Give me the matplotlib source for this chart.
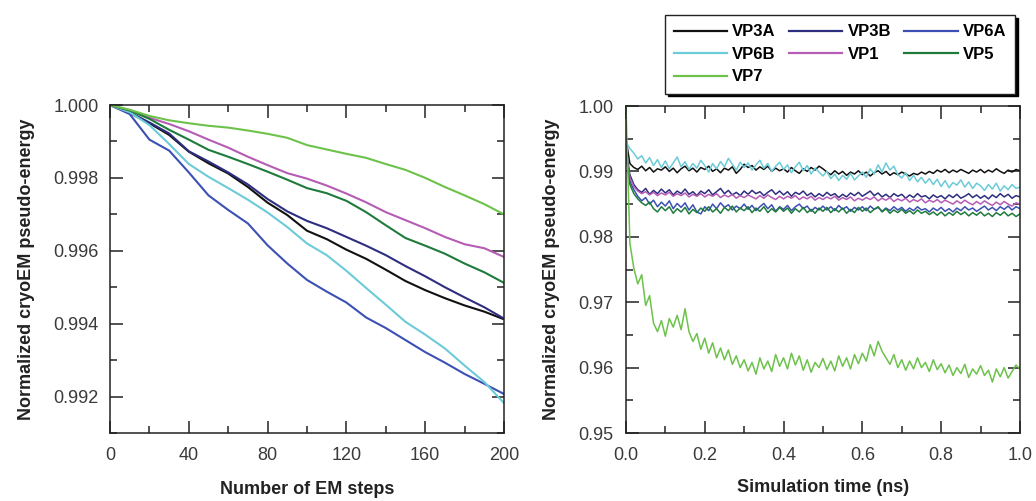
import numpy as np
import matplotlib
matplotlib.use("Agg")
import matplotlib.pyplot as plt
from matplotlib.ticker import MultipleLocator, FormatStrFormatter
from matplotlib.lines import Line2D

plt.rcParams['font.family'] = ['Liberation Sans', 'DejaVu Sans']

# ---------------- data: left panel (EM steps) ----------------
EM_STEPS = [0, 10, 20, 30, 40, 50, 60, 70, 80, 90, 100,
            110, 120, 130, 140, 150, 160, 170, 180, 190, 200]
EM_VP3A = [1.0, 0.99978, 0.99950, 0.99918, 0.99872, 0.99840, 0.99812, 0.99775, 0.99732, 0.99698, 0.99655,
           0.99632, 0.99603, 0.99578, 0.99548, 0.99517, 0.99492, 0.99470, 0.99450, 0.99433, 0.99412]
EM_VP3B = [1.0, 0.99980, 0.99952, 0.99922, 0.99873, 0.99845, 0.99815, 0.99782, 0.99742, 0.99708, 0.99682,
           0.99662, 0.99638, 0.99614, 0.99588, 0.99558, 0.99530, 0.99500, 0.99472, 0.99445, 0.99414]
EM_VP6A = [1.0, 0.99975, 0.99905, 0.99875, 0.99815, 0.99752, 0.99712, 0.99675, 0.99615, 0.99565, 0.99520,
           0.99488, 0.99458, 0.99417, 0.99388, 0.99355, 0.99322, 0.99293, 0.99262, 0.99235, 0.99207]
EM_VP6B = [1.0, 0.99980, 0.99945, 0.99893, 0.99838, 0.99803, 0.99772, 0.99740, 0.99705, 0.99665, 0.99620,
           0.99588, 0.99545, 0.99498, 0.99452, 0.99405, 0.99370, 0.99332, 0.99285, 0.99240, 0.99182]
EM_VP1 = [1.0, 0.99985, 0.99965, 0.99948, 0.99928, 0.99905, 0.99883, 0.99858, 0.99835, 0.99813, 0.99798,
          0.99779, 0.99757, 0.99733, 0.99706, 0.99684, 0.99662, 0.99638, 0.99618, 0.99607, 0.99583]
EM_VP5 = [1.0, 0.99985, 0.99962, 0.99932, 0.99905, 0.99877, 0.99858, 0.99838, 0.99817, 0.99795, 0.99772,
          0.99758, 0.99737, 0.99706, 0.99670, 0.99635, 0.99614, 0.99592, 0.99565, 0.99541, 0.99512]
EM_VP7 = [1.0, 0.99987, 0.99970, 0.99958, 0.99950, 0.99943, 0.99938, 0.99930, 0.99921, 0.99910, 0.99890,
          0.99878, 0.99866, 0.99855, 0.99838, 0.99822, 0.99800, 0.99775, 0.99752, 0.99728, 0.99700]

# ---------------- data: right panel (simulation time, ns) ----------------
TIME_NS = np.linspace(0.0, 1.0, 101)
MD_VP3A = [0.9950, 0.9912, 0.9906, 0.9903, 0.9908, 0.9901, 0.9906, 0.9899, 0.9904, 0.9902,
           0.9907, 0.9900, 0.9905, 0.9898, 0.9904, 0.9908, 0.9901, 0.9905, 0.9899, 0.9906,
           0.9903, 0.9908, 0.9900, 0.9904, 0.9898, 0.9905, 0.9902, 0.9907, 0.9897, 0.9903,
           0.9911, 0.9906, 0.9909, 0.9902, 0.9907, 0.9903, 0.9908, 0.9900, 0.9905, 0.9901,
           0.9904, 0.9899, 0.9906, 0.9901, 0.9897, 0.9904, 0.9900, 0.9906, 0.9902, 0.9908,
           0.9904, 0.9899, 0.9895, 0.9901, 0.9896, 0.9900, 0.9894, 0.9899, 0.9896, 0.9901,
           0.9895, 0.9899, 0.9893, 0.9898, 0.9901, 0.9896, 0.9900, 0.9894, 0.9898, 0.9895,
           0.9899, 0.9896, 0.9893, 0.9897, 0.9895, 0.9899, 0.9896, 0.9900, 0.9897, 0.9902,
           0.9899, 0.9903, 0.9898, 0.9902, 0.9899, 0.9903, 0.9900, 0.9897, 0.9902, 0.9899,
           0.9903, 0.9898, 0.9902, 0.9899, 0.9904, 0.9900, 0.9897, 0.9902, 0.9899, 0.9903, 0.9901]
MD_VP3B = [0.9935, 0.9895, 0.9880, 0.9872, 0.9868, 0.9874, 0.9865, 0.9871, 0.9866, 0.9873,
           0.9867, 0.9872, 0.9864, 0.9870, 0.9866, 0.9873, 0.9865, 0.9869, 0.9863, 0.9870,
           0.9866, 0.9872, 0.9864, 0.9869, 0.9874, 0.9866, 0.9871, 0.9864, 0.9868, 0.9863,
           0.9870, 0.9865, 0.9871, 0.9866, 0.9869, 0.9863, 0.9868, 0.9872, 0.9865, 0.9870,
           0.9864, 0.9869, 0.9862, 0.9868, 0.9865, 0.9870, 0.9863, 0.9867, 0.9861, 0.9866,
           0.9862, 0.9868, 0.9863, 0.9866, 0.9860, 0.9865, 0.9861, 0.9867, 0.9863, 0.9868,
           0.9862, 0.9866, 0.9870, 0.9863, 0.9867, 0.9861, 0.9865, 0.9860, 0.9866, 0.9862,
           0.9865, 0.9859, 0.9864, 0.9860, 0.9866, 0.9861, 0.9863, 0.9858, 0.9864, 0.9860,
           0.9863, 0.9858, 0.9864, 0.9860, 0.9865, 0.9859, 0.9862, 0.9866, 0.9860, 0.9864,
           0.9859, 0.9863, 0.9858, 0.9864, 0.9860, 0.9866, 0.9861, 0.9865, 0.9859, 0.9863, 0.9861]
MD_VP6A = [0.9925, 0.9885, 0.9872, 0.9862, 0.9855, 0.9860, 0.9850, 0.9856, 0.9846, 0.9853,
           0.9847, 0.9855, 0.9843, 0.9851, 0.9845, 0.9852, 0.9841, 0.9849, 0.9838, 0.9835,
           0.9846, 0.9840, 0.9850, 0.9843, 0.9852, 0.9845, 0.9849, 0.9841, 0.9847, 0.9843,
           0.9850, 0.9842, 0.9848, 0.9840, 0.9846, 0.9851, 0.9843, 0.9849, 0.9839, 0.9846,
           0.9842, 0.9848, 0.9840, 0.9846, 0.9850, 0.9843, 0.9847, 0.9839, 0.9845, 0.9841,
           0.9847, 0.9841, 0.9846, 0.9840, 0.9848, 0.9842, 0.9846, 0.9839, 0.9845, 0.9841,
           0.9846, 0.9840, 0.9847, 0.9842, 0.9845, 0.9839, 0.9844, 0.9840, 0.9846, 0.9841,
           0.9845, 0.9839, 0.9844, 0.9840, 0.9846, 0.9841, 0.9843, 0.9838, 0.9844, 0.9840,
           0.9845, 0.9839, 0.9843, 0.9838, 0.9844, 0.9840, 0.9846, 0.9841, 0.9844, 0.9839,
           0.9843, 0.9847, 0.9841, 0.9845, 0.9840, 0.9846, 0.9842, 0.9847, 0.9841, 0.9846, 0.9843]
MD_VP6B = [0.9945, 0.9935, 0.9928, 0.9919, 0.9924, 0.9913, 0.9921, 0.9909, 0.9918, 0.9906,
           0.9916, 0.9904, 0.9913, 0.9922, 0.9907, 0.9915, 0.9903, 0.9912, 0.9905, 0.9917,
           0.9909, 0.9899, 0.9912, 0.9904, 0.9915, 0.9907, 0.9920, 0.9911, 0.9902, 0.9914,
           0.9906, 0.9913, 0.9902, 0.9910, 0.9917, 0.9905, 0.9912, 0.9900, 0.9908, 0.9914,
           0.9903, 0.9910, 0.9898, 0.9907, 0.9914, 0.9901, 0.9909, 0.9896, 0.9905, 0.9899,
           0.9893, 0.9900, 0.9889, 0.9896, 0.9886, 0.9894, 0.9888, 0.9897, 0.9887, 0.9893,
           0.9899, 0.9891, 0.9904, 0.9896, 0.9910, 0.9899, 0.9913, 0.9902, 0.9908, 0.9895,
           0.9890, 0.9898, 0.9886, 0.9894, 0.9884, 0.9891, 0.9882, 0.9889, 0.9880, 0.9888,
           0.9877, 0.9886, 0.9875, 0.9883, 0.9879, 0.9887, 0.9876, 0.9884, 0.9874, 0.9882,
           0.9878, 0.9871, 0.9880, 0.9873, 0.9882, 0.9870, 0.9878, 0.9872, 0.9880, 0.9874, 0.9876]
MD_VP1 = [0.9930, 0.9890, 0.9877, 0.9870, 0.9866, 0.9869, 0.9864, 0.9868, 0.9863, 0.9867,
          0.9864, 0.9868, 0.9862, 0.9866, 0.9863, 0.9867, 0.9861, 0.9865, 0.9862, 0.9866,
          0.9861, 0.9865, 0.9862, 0.9866, 0.9860, 0.9864, 0.9861, 0.9865, 0.9859, 0.9863,
          0.9860, 0.9864, 0.9861, 0.9858, 0.9863, 0.9859, 0.9864, 0.9860, 0.9857, 0.9862,
          0.9858, 0.9862, 0.9859, 0.9863, 0.9857, 0.9861, 0.9858, 0.9862, 0.9856, 0.9860,
          0.9857, 0.9861, 0.9858, 0.9862, 0.9856, 0.9860, 0.9857, 0.9861, 0.9855, 0.9859,
          0.9856, 0.9860, 0.9857, 0.9861, 0.9855, 0.9859, 0.9856, 0.9860, 0.9854, 0.9858,
          0.9855, 0.9859, 0.9853, 0.9857, 0.9854, 0.9858, 0.9852, 0.9856, 0.9853, 0.9857,
          0.9852, 0.9856, 0.9853, 0.9850, 0.9855, 0.9851, 0.9856, 0.9852, 0.9849, 0.9854,
          0.9850, 0.9855, 0.9851, 0.9848, 0.9853, 0.9849, 0.9854, 0.9850, 0.9847, 0.9852, 0.9850]
MD_VP5 = [0.9930, 0.9880, 0.9866, 0.9858, 0.9852, 0.9848, 0.9853, 0.9843, 0.9838, 0.9846,
          0.9840, 0.9846, 0.9836, 0.9843, 0.9838, 0.9845, 0.9835, 0.9842, 0.9837, 0.9844,
          0.9839, 0.9846, 0.9838, 0.9843, 0.9836, 0.9845, 0.9840, 0.9847, 0.9838, 0.9844,
          0.9840, 0.9846, 0.9837, 0.9844, 0.9839, 0.9846, 0.9837, 0.9843, 0.9838, 0.9845,
          0.9839, 0.9844, 0.9836, 0.9843, 0.9838, 0.9845, 0.9837, 0.9842, 0.9836, 0.9844,
          0.9839, 0.9845, 0.9837, 0.9843, 0.9838, 0.9844, 0.9836, 0.9842, 0.9837, 0.9845,
          0.9839, 0.9844, 0.9837, 0.9842, 0.9846, 0.9838, 0.9843, 0.9836, 0.9841, 0.9837,
          0.9842, 0.9836, 0.9840, 0.9835, 0.9841, 0.9836, 0.9839, 0.9834, 0.9838, 0.9833,
          0.9838, 0.9832, 0.9837, 0.9833, 0.9839, 0.9834, 0.9838, 0.9832, 0.9837, 0.9833,
          0.9838, 0.9832, 0.9836, 0.9831, 0.9837, 0.9833, 0.9838, 0.9832, 0.9836, 0.9831, 0.9835]
MD_VP7 = [1.0000, 0.9790, 0.9752, 0.9728, 0.9742, 0.9695, 0.9710, 0.9668, 0.9655, 0.9672,
          0.9648, 0.9675, 0.9662, 0.9680, 0.9658, 0.9690, 0.9655, 0.9640, 0.9652, 0.9628,
          0.9645, 0.9622, 0.9638, 0.9615, 0.9630, 0.9612, 0.9627, 0.9605, 0.9618, 0.9600,
          0.9612, 0.9595, 0.9608, 0.9590, 0.9615, 0.9598, 0.9610, 0.9594, 0.9620, 0.9602,
          0.9615, 0.9598, 0.9622, 0.9604, 0.9618, 0.9596, 0.9612, 0.9593, 0.9608, 0.9600,
          0.9614, 0.9597, 0.9610, 0.9595, 0.9618, 0.9602, 0.9615, 0.9598, 0.9620, 0.9606,
          0.9622, 0.9610, 0.9635, 0.9618, 0.9640, 0.9625, 0.9615, 0.9605, 0.9620, 0.9600,
          0.9612, 0.9596, 0.9610, 0.9598, 0.9615, 0.9600, 0.9608, 0.9594, 0.9612, 0.9597,
          0.9606, 0.9592, 0.9604, 0.9588, 0.9600, 0.9591, 0.9605, 0.9585, 0.9598, 0.9590,
          0.9603, 0.9588, 0.9596, 0.9578, 0.9598, 0.9586, 0.9600, 0.9584, 0.9594, 0.9604, 0.9598]

NAMES = ['VP3A', 'VP3B', 'VP6A', 'VP6B', 'VP1', 'VP5', 'VP7']
COLORS = ['#111111', '#2e2e80', '#3c50b4', '#6ccbd9', '#b55cb5', '#1e7b3c', '#6cc24a']
EM_SERIES = [EM_VP3A, EM_VP3B, EM_VP6A, EM_VP6B, EM_VP1, EM_VP5, EM_VP7]
MD_SERIES = [MD_VP3A, MD_VP3B, MD_VP6A, MD_VP6B, MD_VP1, MD_VP5, MD_VP7]

fig = plt.figure(figsize=(10.36, 5.01), dpi=100)
ax1 = fig.add_axes([0.1062, 0.1357, 0.3803, 0.6547])
ax2 = fig.add_axes([0.6042, 0.1357, 0.3803, 0.6527])

for name, col, ys in zip(NAMES, COLORS, EM_SERIES):
    ax1.plot(EM_STEPS, ys, color=col, lw=1.5, label=name)
for name, col, ys in zip(NAMES, COLORS, MD_SERIES):
    ax2.plot(TIME_NS, ys, color=col, lw=1.1, label=name)

tick_color = '#3a3a3a'
label_kw = dict(fontsize=13, fontweight='bold', color='#222222')

ax1.set_xlim(0, 200)
ax1.set_ylim(0.991, 1.000)
ax1.xaxis.set_major_locator(MultipleLocator(40))
ax1.xaxis.set_minor_locator(MultipleLocator(20))
ax1.yaxis.set_major_locator(MultipleLocator(0.002))
ax1.yaxis.set_minor_locator(MultipleLocator(0.001))
ax1.yaxis.set_major_formatter(FormatStrFormatter('%.3f'))
ax1.set_xlabel('Number of EM steps', labelpad=12, **label_kw)
ax1.set_ylabel('Normalized cryoEM pseudo-energy', labelpad=13, **label_kw)

ax2.set_xlim(0, 1.0)
ax2.set_ylim(0.95, 1.00)
ax2.xaxis.set_major_locator(MultipleLocator(0.2))
ax2.xaxis.set_minor_locator(MultipleLocator(0.1))
ax2.yaxis.set_major_locator(MultipleLocator(0.01))
ax2.yaxis.set_minor_locator(MultipleLocator(0.005))
ax2.xaxis.set_major_formatter(FormatStrFormatter('%.1f'))
ax2.yaxis.set_major_formatter(FormatStrFormatter('%.2f'))
ax2.set_xlabel('Simulation time (ns)', labelpad=11, **label_kw)
ax2.set_ylabel('Normalized cryoEM pseudo-energy', labelpad=13, **label_kw)

for ax in (ax1, ax2):
    for s in ax.spines.values():
        s.set_linewidth(1.1)
        s.set_color('#222222')
    ax.tick_params(which='both', direction='in', top=True, right=True,
                   colors='#222222', labelcolor=tick_color, labelsize=13, width=1.1)
    ax.tick_params(which='major', length=9)
    ax.tick_params(which='minor', length=5)
ax1.tick_params(axis='y', which='major', pad=8)
ax1.tick_params(axis='x', which='major', pad=10)
ax2.tick_params(axis='y', which='major', pad=9)
ax2.tick_params(axis='x', which='major', pad=10)

# legend (3 columns, row-wise order)
handles = {n: Line2D([], [], color=c, lw=1.6) for n, c in zip(NAMES, COLORS)}
order = ['VP3A', 'VP6B', 'VP7', 'VP3B', 'VP1', 'VP6A', 'VP5']
leg = fig.legend([handles[n] for n in order], order, ncol=3,
                 loc='center', bbox_to_anchor=(0.640, 0.8084, 0.3417, 0.1657),
                 prop={'size': 12, 'weight': 'bold'}, handlelength=3.2,
                 handletextpad=0.3, columnspacing=0.8, labelspacing=0.45,
                 frameon=True, fancybox=False, borderpad=0.55,
                 shadow={'color': 'black', 'alpha': 1.0})
leg.get_frame().set_edgecolor('#222222')
leg.get_frame().set_linewidth(1.0)

fig.savefig('out.png', dpi=100)
